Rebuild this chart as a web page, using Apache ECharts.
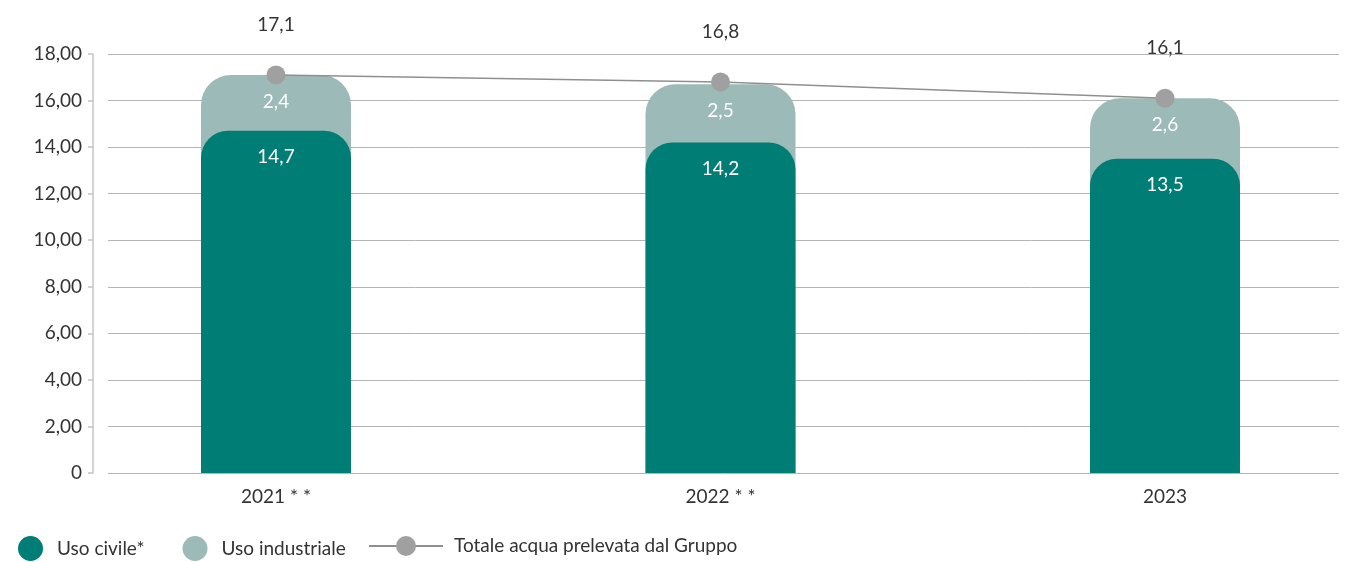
<!DOCTYPE html>
<html>
<head>
<meta charset="utf-8">
<script src="https://cdn.jsdelivr.net/npm/echarts@6/dist/echarts.min.js"></script>
<style>
  html, body { margin: 0; padding: 0; background: #fff; }
  #chart { width: 1354px; height: 562px; }
</style>
</head>
<body>
<div id="chart"></div>
<script>
// Prelievi idrici (milioni di m³)
const categories = ['2021 * *', '2022 * *', '2023'];
const usoCivile = [14.7, 14.2, 13.5];
const usoIndustriale = [2.4, 2.5, 2.6];
const totale = [17.1, 16.8, 16.1];

const FONT = 'Lato';
const FS = 19;
const TEXT = '#333333';
const C_CIVILE = '#007d74';
const C_INDUSTRIALE = '#9cbab7';
const C_TOTALE = '#a0a0a0';

const fmt1 = v => v.toFixed(1).replace('.', ',');
const fmtAxis = v => (v === 0 ? '0' : v.toFixed(2).replace('.', ','));

// industrial bar is drawn behind, reaching the top of the stack
const stackTop = usoCivile.map((v, i) => +(v + usoIndustriale[i]).toFixed(2));

const chart = echarts.init(document.getElementById('chart'));
chart.setOption({
  animation: false,
  textStyle: { fontFamily: FONT },
  grid: [
    { left: 108, right: 15, top: 54, bottom: 89 },
    { left: 276, right: 189, top: 54, bottom: 89 }
  ],
  xAxis: [
    { gridIndex: 0, type: 'category', data: categories, show: false },
    {
      gridIndex: 1, type: 'category', data: categories, boundaryGap: false,
      axisLine: { show: false }, axisTick: { show: false },
      axisLabel: { color: TEXT, fontSize: FS, fontFamily: FONT, margin: 14 }
    }
  ],
  yAxis: [
    {
      gridIndex: 0, type: 'value', min: 0, max: 18, interval: 2, offset: 15,
      axisLine: { show: true, lineStyle: { color: '#c4c4c4', width: 1.5 } },
      axisTick: { show: true, length: 5, lineStyle: { color: '#c4c4c4', width: 1.5 } },
      axisLabel: { color: TEXT, fontSize: FS, fontFamily: FONT, margin: 11, formatter: fmtAxis },
      splitLine: { lineStyle: { color: '#b5b5b5', width: 1 } }
    },
    { gridIndex: 1, type: 'value', min: 0, max: 18, show: false }
  ],
  legend: [
    {
      data: ['Uso civile*', 'Uso industriale'],
      left: 18, top: 536, padding: 0, icon: 'circle', itemWidth: 25, itemHeight: 25, itemGap: 38,
      textStyle: { color: TEXT, fontSize: FS, fontFamily: FONT, padding: [0, 0, 0, 9] }
    },
    {
      data: ['Totale acqua prelevata dal Gruppo'],
      left: 368, top: 536, padding: 0, itemWidth: 74, itemHeight: 25,
      textStyle: { color: TEXT, fontSize: FS, fontFamily: FONT, padding: [0, 0, 0, 6] }
    }
  ],
  series: [
    {
      name: 'Uso industriale', type: 'bar', xAxisIndex: 1, yAxisIndex: 1,
      data: stackTop, barWidth: 150, barGap: '-100%', clip: false,
      itemStyle: { color: C_INDUSTRIALE, borderRadius: [30, 30, 0, 0] },
      label: {
        show: true, position: 'insideTop', distance: 17, color: '#fff', fontSize: FS, fontFamily: FONT,
        formatter: p => fmt1(usoIndustriale[p.dataIndex])
      },
      z: 2
    },
    {
      name: 'Uso civile*', type: 'bar', xAxisIndex: 1, yAxisIndex: 1,
      data: usoCivile, barWidth: 150, barGap: '-100%', clip: false,
      itemStyle: { color: C_CIVILE, borderRadius: [27, 27, 0, 0] },
      label: {
        show: true, position: 'insideTop', distance: 17, color: '#fff', fontSize: FS, fontFamily: FONT,
        formatter: p => fmt1(p.value)
      },
      z: 3
    },
    {
      name: 'Totale acqua prelevata dal Gruppo', type: 'line', xAxisIndex: 1, yAxisIndex: 1,
      data: totale, clip: false, symbol: 'circle', symbolSize: 19,
      itemStyle: { color: C_TOTALE },
      lineStyle: { color: '#8f8f8f', width: 1.5 },
      label: {
        show: true, position: 'top', distance: 31, color: TEXT, fontSize: FS, fontFamily: FONT,
        formatter: p => fmt1(p.value)
      },
      z: 5
    }
  ]
});
</script>
</body>
</html>
